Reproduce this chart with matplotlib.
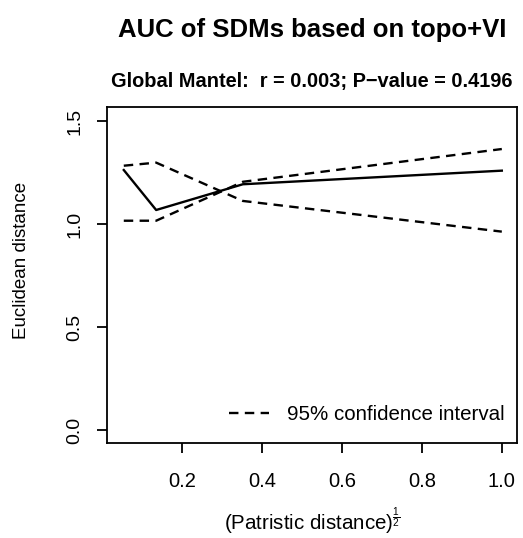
import matplotlib
matplotlib.use('Agg')
import matplotlib.pyplot as plt

# correlogram values
dist = [0.054, 0.135, 0.352, 1.0]
mantel_r = [1.262, 1.068, 1.193, 1.259]
ci_upper = [1.283, 1.298, 1.112, 0.963]
ci_lower = [1.016, 1.016, 1.205, 1.364]

xticks = [0.2, 0.4, 0.6, 0.8, 1.0]
yticks = [0.0, 0.5, 1.0, 1.5]

plt.rcParams['font.family'] = ['Liberation Sans', 'DejaVu Sans']
plt.rcParams['mathtext.fontset'] = 'custom'
plt.rcParams['mathtext.rm'] = 'Liberation Sans'
plt.rcParams['mathtext.it'] = 'Liberation Sans'

W, H = 523, 538
fig = plt.figure(figsize=(W / 100, H / 100), dpi=100)
ax = fig.add_axes([107/W, 1 - 443/H, 410/W, 336/H])

dash = (4, 2.7)
ax.plot(dist, mantel_r, color='black', lw=1.7)
ax.plot(dist, ci_upper, color='black', lw=1.7, dashes=dash,
        label='95% confidence interval')
ax.plot(dist, ci_lower, color='black', lw=1.7, dashes=dash)

ax.set_xlim(0.012, 1.038)
ax.set_ylim(-0.063, 1.568)
ax.set_xticks(xticks)
ax.set_xticklabels(['%.1f' % v for v in xticks])
ax.set_yticks(yticks)
ax.set_yticklabels(['%.1f' % v for v in yticks], rotation=90, va='center')
ax.tick_params(length=7, width=1.3, color='black')
ax.tick_params(axis='x', labelsize=14.5, pad=14)
ax.tick_params(axis='y', labelsize=14, pad=10)
for s in ax.spines.values():
    s.set_linewidth(1.3)

cx = 0.5 * (107 + 517) / W
fig.text(cx, 1 - 521/H, r'(Patristic distance)$^{\frac{1}{2}}$',
         ha='center', va='center', fontsize=14.8)
fig.text(22/W, 1 - 260/H, 'Euclidean distance', rotation=90,
         ha='center', va='center', fontsize=13.5)

fig.text(cx, 1 - 30/H, 'AUC of SDMs based on topo+VI',
         ha='center', va='center', fontsize=18.5, fontweight='bold')
fig.text(cx, 1 - 82/H, 'Global Mantel:  r = 0.003; P\u2212value = 0.4196',
         ha='center', va='center', fontsize=14.4, fontweight='bold')

ax.legend(loc='lower right', bbox_to_anchor=(1 - 12/410, 19/336),
          frameon=False, fontsize=14.8, borderpad=0, borderaxespad=0,
          handlelength=1.95, handletextpad=0.88)

fig.savefig('out.png', dpi=100)
